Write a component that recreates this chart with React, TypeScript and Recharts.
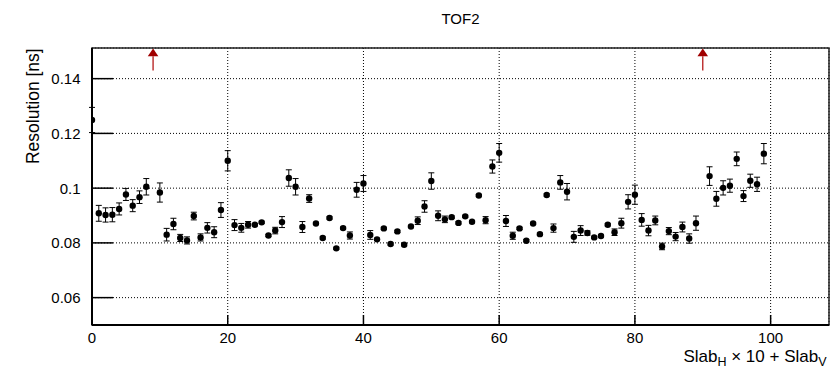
import React from 'react';
import {
  ScatterChart,
  Scatter,
  XAxis,
  YAxis,
  CartesianGrid,
  ErrorBar,
  ReferenceArea,
  ReferenceLine,
} from 'recharts';

// Slab index = Slab_H * 10 + Slab_V (slabs 9 and 90 have no measurement)
const slabIndex = [
  0, 1, 2, 3, 4, 5, 6, 7, 8,
  10, 11, 12, 13, 14, 15, 16, 17, 18, 19,
  20, 21, 22, 23, 24, 25, 26, 27, 28, 29,
  30, 31, 32, 33, 34, 35, 36, 37, 38, 39,
  40, 41, 42, 43, 44, 45, 46, 47, 48, 49,
  50, 51, 52, 53, 54, 55, 56, 57, 58, 59,
  60, 61, 62, 63, 64, 65, 66, 67, 68, 69,
  70, 71, 72, 73, 74, 75, 76, 77, 78, 79,
  80, 81, 82, 83, 84, 85, 86, 87, 88, 89,
  91, 92, 93, 94, 95, 96, 97, 98, 99,
];

// Time resolution per slab [ns]
const resolution = [
  0.1249, 0.0908, 0.0902, 0.0903, 0.0924, 0.0977, 0.0936, 0.0967, 0.1005,
  0.0984, 0.0830, 0.0869, 0.0818, 0.0809, 0.0898, 0.0820, 0.0855, 0.0839, 0.0920,
  0.1100, 0.0865, 0.0855, 0.0866, 0.0866, 0.0875, 0.0827, 0.0845, 0.0876, 0.1037,
  0.1005, 0.0858, 0.0962, 0.0871, 0.0818, 0.0891, 0.0780, 0.0854, 0.0827, 0.0994,
  0.1017, 0.0829, 0.0813, 0.0853, 0.0796, 0.0842, 0.0793, 0.0860, 0.0881, 0.0933,
  0.1026, 0.0899, 0.0886, 0.0894, 0.0873, 0.0897, 0.0877, 0.0973, 0.0883, 0.1079,
  0.1129, 0.0880, 0.0826, 0.0853, 0.0808, 0.0871, 0.0832, 0.0975, 0.0854, 0.1021,
  0.0987, 0.0822, 0.0845, 0.0836, 0.0820, 0.0825, 0.0866, 0.0839, 0.0872, 0.0950,
  0.0976, 0.0884, 0.0845, 0.0882, 0.0787, 0.0843, 0.0823, 0.0858, 0.0816, 0.0872,
  0.1044, 0.0961, 0.1001, 0.1009, 0.1107, 0.0971, 0.1027, 0.1014, 0.1126,
];

// Statistical uncertainty of each resolution value [ns]
const resolutionErr = [
  0.0046, 0.0029, 0.0026, 0.0026, 0.0022, 0.0022, 0.0022, 0.0023, 0.0030,
  0.0035, 0.0023, 0.0021, 0.0013, 0.0013, 0.0014, 0.0013, 0.0019, 0.0020, 0.0027,
  0.0037, 0.0020, 0.0016, 0.0012, 0.0004, 0.0004, 0.0004, 0.0012, 0.0020, 0.0030,
  0.0030, 0.0020, 0.0014, 0.0004, 0.0004, 0.0004, 0.0004, 0.0004, 0.0013, 0.0027,
  0.0029, 0.0016, 0.0004, 0.0004, 0.0004, 0.0004, 0.0004, 0.0004, 0.0014, 0.0021,
  0.0030, 0.0018, 0.0012, 0.0004, 0.0004, 0.0004, 0.0004, 0.0004, 0.0013, 0.0024,
  0.0034, 0.0020, 0.0013, 0.0004, 0.0004, 0.0004, 0.0004, 0.0004, 0.0015, 0.0025,
  0.0030, 0.0020, 0.0018, 0.0008, 0.0004, 0.0004, 0.0004, 0.0012, 0.0018, 0.0026,
  0.0035, 0.0023, 0.0019, 0.0016, 0.0012, 0.0013, 0.0015, 0.0018, 0.0017, 0.0026,
  0.0034, 0.0027, 0.0026, 0.0024, 0.0025, 0.0020, 0.0024, 0.0026, 0.0037,
];

const xTicks = [0, 20, 40, 60, 80, 100];
const yTicks = [0.06, 0.08, 0.1, 0.12, 0.14];
const yTickLabels = ['0.06', '0.08', '0.1', '0.12', '0.14'];

// Slabs flagged with an arrow at the top of the frame
const markedSlabs = [9, 90];
const arrowSpan = [0.143, 0.151];

const X_DOMAIN: [number, number] = [0, 108.6];
const Y_DOMAIN: [number, number] = [0.05, 0.1512];

const FONT = '"Liberation Sans", Arial, Helvetica, sans-serif';

const points = slabIndex.map((x, i) => ({
  x,
  y: resolution[i],
  err: resolutionErr[i],
}));

const YTick = (props: any) => {
  const { x, y, payload } = props;
  const idx = yTicks.indexOf(payload.value);
  const label = idx >= 0 ? yTickLabels[idx] : String(payload.value);
  return (
    <g>
      <line x1={x} x2={x + 21} y1={y} y2={y} stroke="#000" strokeWidth={1.5} />
      <text
        x={x - 11.5}
        y={y + 5.4}
        textAnchor="end"
        fontSize={15}
        fontFamily={FONT}
        fill="#000"
      >
        {label}
      </text>
    </g>
  );
};

const XTick = (props: any) => {
  const { x, y, payload } = props;
  return (
    <g>
      <line x1={x} x2={x} y1={y} y2={y - 10} stroke="#000" strokeWidth={1.5} />
      <text
        x={x}
        y={y + 18.3}
        textAnchor="middle"
        fontSize={15}
        fontFamily={FONT}
        fill="#000"
      >
        {payload.value}
      </text>
    </g>
  );
};

const Dot = (props: any) => {
  const { cx, cy } = props;
  if (cx == null || cy == null) return <g />;
  return <circle cx={cx} cy={cy} r={3.2} fill="#000" />;
};

const Arrow = (props: any) => {
  const { x1, y1, y2 } = props;
  const top = Math.min(y1, y2);
  const bottom = Math.max(y1, y2);
  const headLen = 7.7;
  const headHalf = 5.3;
  return (
    <g>
      <line
        x1={x1}
        x2={x1}
        y1={bottom}
        y2={top + headLen}
        stroke="#b51a1a"
        strokeWidth={1.3}
      />
      <polygon
        points={`${x1},${top} ${x1 - headHalf},${top + headLen} ${x1 + headHalf},${top + headLen}`}
        fill="#a00000"
      />
    </g>
  );
};

const XTitle = (props: any) => {
  const { viewBox } = props;
  const right = viewBox.x + viewBox.width - 2.5;
  return (
    <text
      x={right}
      y={361.5}
      textAnchor="end"
      fontSize={17}
      fontFamily={FONT}
      fill="#000"
    >
      Slab
      <tspan fontSize={12.5} dy={4.5}>H</tspan>
      <tspan dy={-4.5}> × 10 + Slab</tspan>
      <tspan fontSize={12.5} dy={4.5}>V</tspan>
    </text>
  );
};

const YTitle = () => (
  <text
    x={39.3}
    y={48.3}
    transform="rotate(-90, 39.3, 48.3)"
    textAnchor="end"
    fontSize={17.5}
    fontFamily={FONT}
    fill="#000"
  >
    Resolution [ns]
  </text>
);

export default function App() {
  return (
    <div style={{ position: 'absolute', left: 0, top: 0, width: 831, height: 372, background: '#fff' }}>
      <ScatterChart
        width={831}
        height={372}
        margin={{ top: 48, right: 2, bottom: 0, left: 0 }}
      >
        <CartesianGrid stroke="#000" strokeDasharray="1 2" strokeWidth={1} />
        <XAxis
          type="number"
          dataKey="x"
          domain={X_DOMAIN}
          ticks={xTicks}
          interval={0}
          allowDataOverflow
          height={47}
          tickSize={0}
          tickMargin={0}
          tickLine={false}
          axisLine={{ stroke: '#000', strokeWidth: 2 }}
          tick={<XTick />}
          label={<XTitle />}
        />
        <YAxis
          type="number"
          dataKey="y"
          domain={Y_DOMAIN}
          ticks={yTicks}
          interval={0}
          allowDataOverflow
          width={92}
          tickSize={0}
          tickMargin={0}
          tickLine={false}
          axisLine={{ stroke: '#000', strokeWidth: 2 }}
          tick={<YTick />}
          label={<YTitle />}
        />
        <ReferenceArea
          x1={X_DOMAIN[0]}
          x2={X_DOMAIN[1]}
          y1={Y_DOMAIN[0]}
          y2={Y_DOMAIN[1]}
          fill="none"
          stroke="#222"
          strokeWidth={1.5}
        />
        {markedSlabs.map((s) => (
          <ReferenceLine
            key={s}
            segment={[
              { x: s, y: arrowSpan[0] },
              { x: s, y: arrowSpan[1] },
            ]}
            shape={Arrow}
          />
        ))}
        <Scatter data={points} shape={Dot} isAnimationActive={false}>
          <ErrorBar dataKey="err" direction="y" width={3} stroke="#000" strokeWidth={1} />
        </Scatter>
        <text
          x={460.5}
          y={23.5}
          textAnchor="middle"
          fontSize={15}
          fontFamily={FONT}
          fill="#000"
        >
          TOF2
        </text>
      </ScatterChart>
    </div>
  );
}
